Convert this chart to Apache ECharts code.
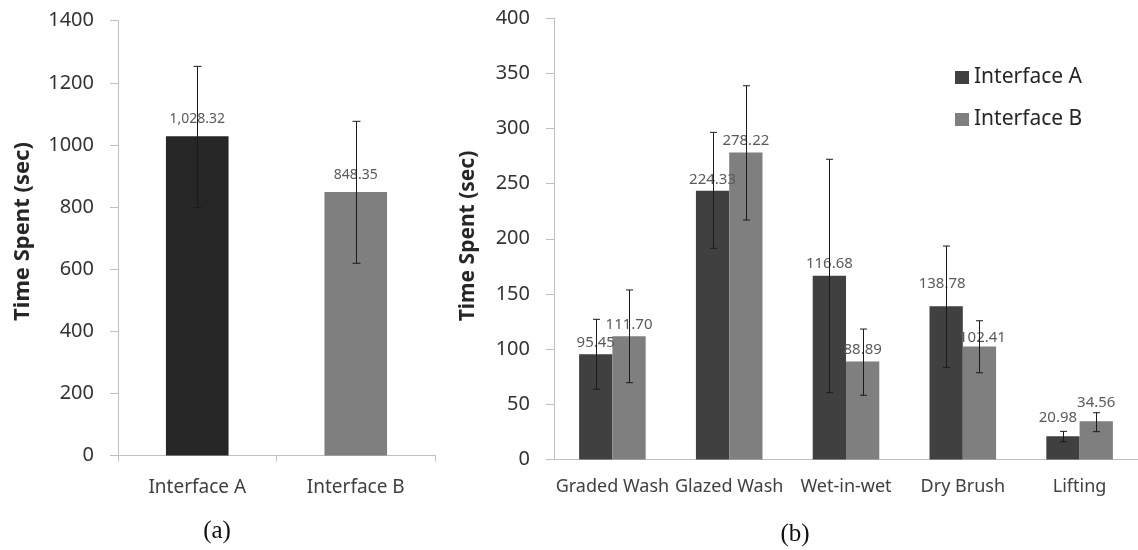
<!DOCTYPE html>
<html>
<head>
<meta charset="utf-8">
<script src="https://cdn.jsdelivr.net/npm/echarts@6/dist/echarts.min.js"></script>
<style>
html,body{margin:0;padding:0;background:#fff;}
#chart{width:1138px;height:550px;}
</style>
</head>
<body>
<div id="chart"></div>
<script>
// ---------- (a) overall ----------
const leftCats = ['Interface A', 'Interface B'];
const leftMeans = [1028.32, 848.35];
const leftLabels = ['1,028.32', '848.35'];
const leftErrLow = [799, 619];
const leftErrHigh = [1253, 1076];
const leftTicks = [0, 200, 400, 600, 800, 1000, 1200, 1400];

// ---------- (b) per technique ----------
const tasks = ['Graded Wash', 'Glazed Wash', 'Wet-in-wet', 'Dry Brush', 'Lifting'];
const barA = [95.45, 243.5, 166.5, 138.78, 20.98];
const barB = [111.70, 278.22, 88.89, 102.41, 34.56];
const labelA = ['95.45', '224.33', '116.68', '138.78', '20.98'];
const labelB = ['111.70', '278.22', '88.89', '102.41', '34.56'];
const errLowA = [63.6, 191.3, 60.5, 83.5, 16.1];
const errHighA = [127.0, 296.4, 272.0, 193.4, 25.5];
const errLowB = [69.6, 217.0, 58.2, 78.6, 25.2];
const errHighB = [153.6, 338.6, 118.2, 125.7, 42.4];
const rightTicks = [0, 50, 100, 150, 200, 250, 300, 350, 400];

const FONT = '"Noto Sans", "Open Sans", sans-serif';
const colLeft = ['#262626', '#7f7f7f'];
const colA = '#404040', colB = '#7f7f7f';
const axisGray = '#bfbfbf';
const barFrac = 0.285;

// label nudges (style only)
const nudgeA = {3: [-4, -11], 4: [-5, -7]};
const nudgeB = {3: [3, 3], 4: [0, -7]};

function errRender(shiftFrac, cap) {
  return function (params, api) {
    const x = api.value(0);
    const lo = api.coord([x, api.value(1)]);
    const hi = api.coord([x, api.value(2)]);
    const band = api.size([1, 0])[0];
    const cx = Math.round(lo[0] + band * shiftFrac) + 0.5;
    const st = {stroke: '#1a1a1a', lineWidth: 1};
    return {
      type: 'group',
      children: [
        {type: 'line', shape: {x1: cx, y1: hi[1], x2: cx, y2: lo[1]}, style: st},
        {type: 'line', shape: {x1: cx - cap, y1: hi[1], x2: cx + cap, y2: hi[1]}, style: st},
        {type: 'line', shape: {x1: cx - cap, y1: lo[1], x2: cx + cap, y2: lo[1]}, style: st}
      ]
    };
  };
}

function barData(vals, labels, nudge) {
  return vals.map((v, i) => {
    const item = {value: v, label: {formatter: labels[i]}};
    if (nudge[i]) item.label.offset = nudge[i];
    return item;
  });
}

const chart = echarts.init(document.getElementById('chart'));
const option = {
  animation: false,
  backgroundColor: '#fff',
  textStyle: {fontFamily: FONT},
  grid: [
    {left: 118, top: 20.7, width: 317, height: 434.8},
    {left: 554, top: 18, width: 589, height: 441.5}
  ],
  legend: {
    data: ['Interface A', 'Interface B'],
    orient: 'vertical',
    left: 950,
    top: 62,
    itemWidth: 14,
    itemHeight: 13,
    itemGap: 21,
    icon: 'rect',
    textStyle: {fontFamily: FONT, fontSize: 21, color: '#262626', lineHeight: 21}
  },
  xAxis: [
    {
      type: 'category', gridIndex: 0, data: leftCats,
      axisLine: {lineStyle: {color: axisGray, width: 1}},
      axisTick: {show: true, length: 6, lineStyle: {color: axisGray}},
      axisLabel: {fontFamily: FONT, fontSize: 19, color: '#404040', margin: 23}
    },
    {
      type: 'category', gridIndex: 1, data: tasks,
      axisLine: {lineStyle: {color: axisGray, width: 1}},
      axisTick: {show: false},
      axisLabel: {fontFamily: FONT, fontSize: 18, color: '#404040', margin: 18, interval: 0}
    }
  ],
  yAxis: [
    {
      type: 'value', gridIndex: 0, min: 0, max: 1400, interval: 200,
      splitLine: {show: false},
      axisLine: {show: true, lineStyle: {color: axisGray, width: 1}},
      axisTick: {show: true, length: 8, lineStyle: {color: axisGray}},
      axisLabel: {fontFamily: FONT, fontSize: 20, color: '#333', margin: 24,
        formatter: v => leftTicks.includes(v) ? String(v) : ''}
    },
    {
      type: 'value', gridIndex: 1, min: 0, max: 400, interval: 50,
      splitLine: {show: false},
      axisLine: {show: true, lineStyle: {color: axisGray, width: 1}},
      axisTick: {show: true, length: 8, lineStyle: {color: axisGray}},
      axisLabel: {fontFamily: FONT, fontSize: 20, color: '#333', margin: 24,
        formatter: v => rightTicks.includes(v) ? String(v) : ''}
    }
  ],
  graphic: [
    {type: 'text', x: 23, y: 231.5, rotation: Math.PI / 2,
      style: {text: 'Time Spent (sec)', fontFamily: FONT, fontWeight: 'bold', fontSize: 22,
        fill: '#262626', align: 'center', verticalAlign: 'middle'}},
    {type: 'text', x: 468, y: 236, rotation: Math.PI / 2,
      style: {text: 'Time Spent (sec)', fontFamily: FONT, fontWeight: 'bold', fontSize: 21,
        fill: '#262626', align: 'center', verticalAlign: 'middle'}},
    {type: 'text', x: 217, y: 531,
      style: {text: '(a)', fontFamily: '"Liberation Serif", "DejaVu Serif", serif', fontSize: 25,
        fill: '#111', align: 'center', verticalAlign: 'middle'}},
    {type: 'text', x: 795, y: 534,
      style: {text: '(b)', fontFamily: '"Liberation Serif", "DejaVu Serif", serif', fontSize: 25,
        fill: '#111', align: 'center', verticalAlign: 'middle'}}
  ],
  series: [
    {
      name: 'Total', type: 'bar', xAxisIndex: 0, yAxisIndex: 0,
      barWidth: '39.5%',
      data: leftMeans.map((v, i) => ({value: v, itemStyle: {color: colLeft[i]}, label: {formatter: leftLabels[i]}})),
      label: {show: true, position: 'top', distance: 10, fontFamily: FONT, fontSize: 14, color: '#5a5a5a'}
    },
    {
      name: 'TotalErr', type: 'custom', xAxisIndex: 0, yAxisIndex: 0,
      renderItem: errRender(0, 4), z: 10,
      data: leftCats.map((c, i) => [i, leftErrLow[i], leftErrHigh[i]])
    },
    {
      name: 'Interface A', type: 'bar', xAxisIndex: 1, yAxisIndex: 1,
      barWidth: (barFrac * 100) + '%', barGap: '0%',
      itemStyle: {color: colA},
      data: barData(barA, labelA, nudgeA),
      label: {show: true, position: 'top', distance: 4, fontFamily: FONT, fontSize: 15, color: '#5a5a5a'}
    },
    {
      name: 'Interface B', type: 'bar', xAxisIndex: 1, yAxisIndex: 1,
      barWidth: (barFrac * 100) + '%', barGap: '0%',
      itemStyle: {color: colB},
      data: barData(barB, labelB, nudgeB),
      label: {show: true, position: 'top', distance: 4, fontFamily: FONT, fontSize: 15, color: '#5a5a5a'}
    },
    {
      name: 'ErrA', type: 'custom', xAxisIndex: 1, yAxisIndex: 1,
      renderItem: errRender(-barFrac / 2, 3.5), z: 10,
      data: tasks.map((t, i) => [i, errLowA[i], errHighA[i]])
    },
    {
      name: 'ErrB', type: 'custom', xAxisIndex: 1, yAxisIndex: 1,
      renderItem: errRender(barFrac / 2, 3.5), z: 10,
      data: tasks.map((t, i) => [i, errLowB[i], errHighB[i]])
    }
  ]
};
chart.setOption(option);
</script>
</body>
</html>
